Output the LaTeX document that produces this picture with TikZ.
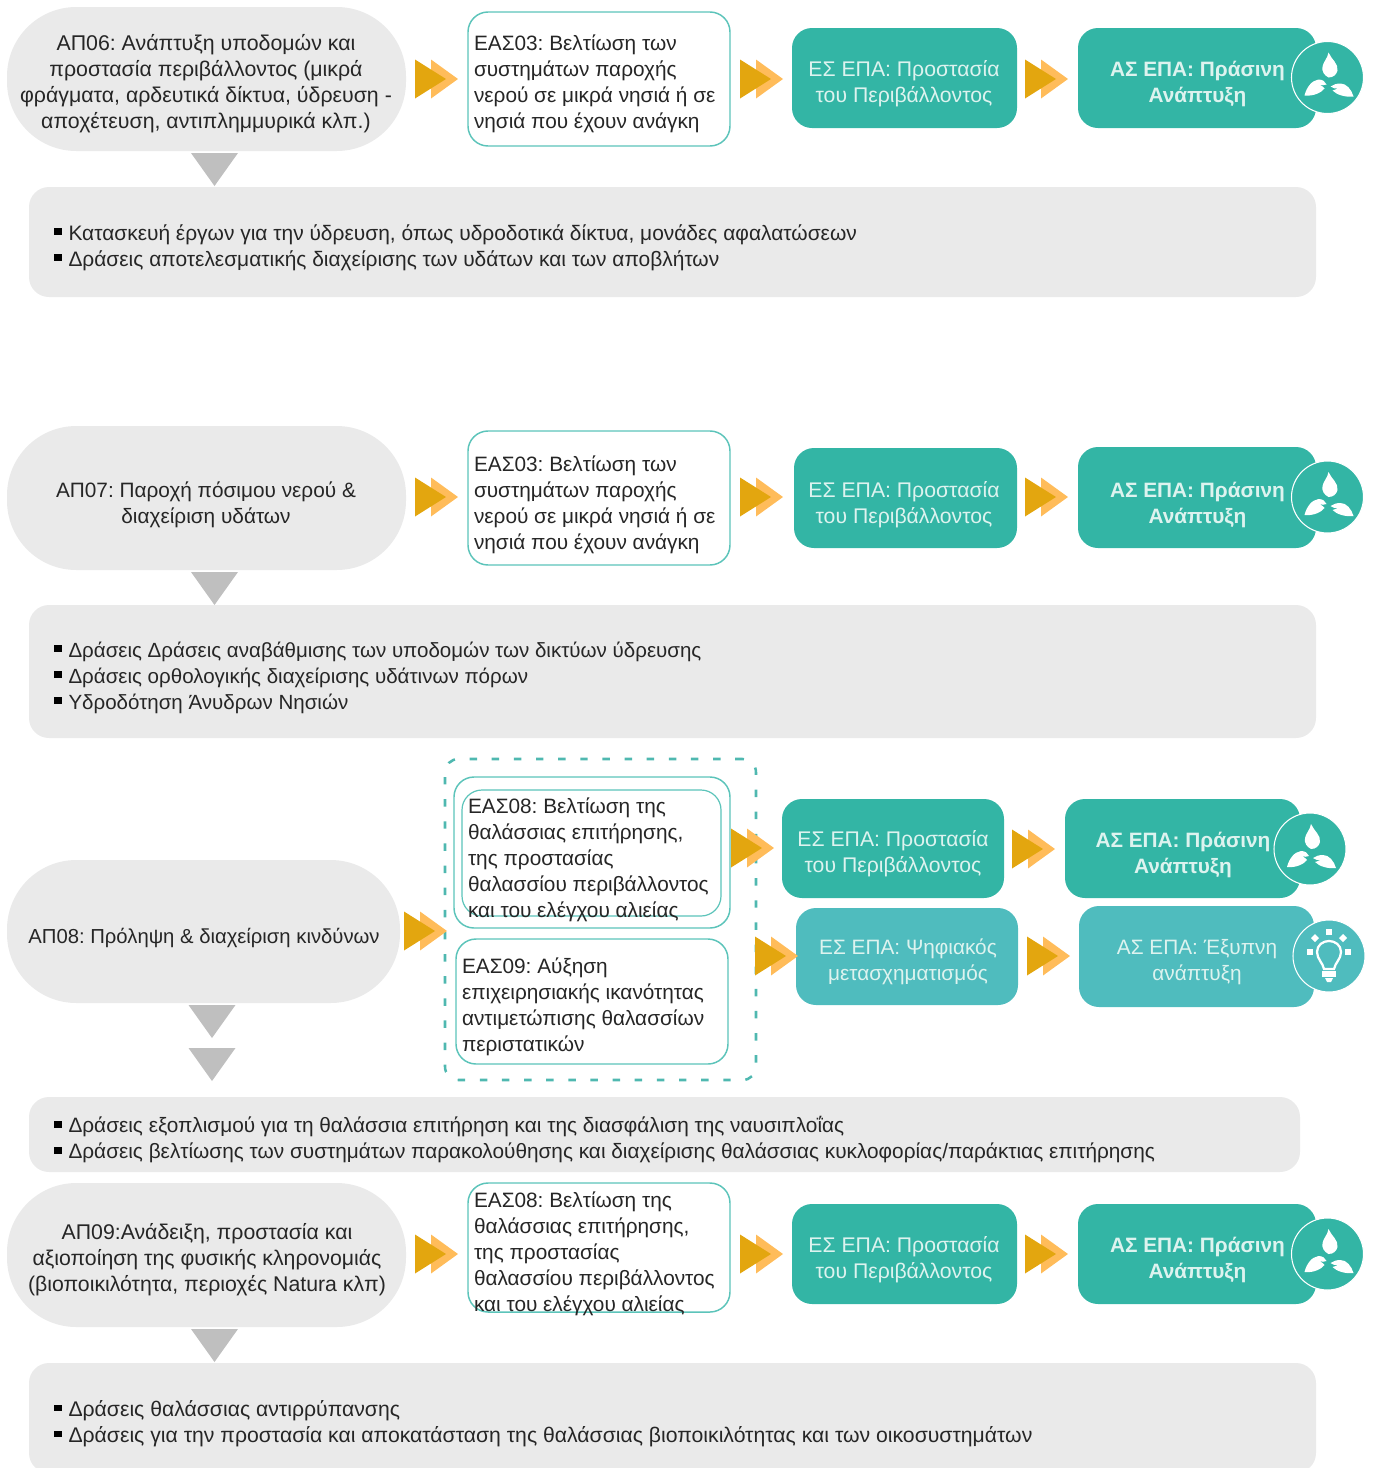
\documentclass[tikz,border=0pt]{standalone}
\usepackage{fontspec}
\setmainfont{Liberation Sans}
\frenchspacing
\definecolor{tealA}{HTML}{33B5A5}
\definecolor{tealB}{HTML}{4FBCBE}
\definecolor{edgeT}{HTML}{5CC4BA}
\definecolor{dashT}{HTML}{4FB8B0}
\definecolor{greyB}{HTML}{EAEAEA}
\definecolor{greyT}{HTML}{BFBFBF}
\definecolor{chevD}{HTML}{E3A60F}
\definecolor{chevL}{HTML}{FFBC5A}
\definecolor{inkT}{HTML}{262626}
\definecolor{paleT}{HTML}{DDF3EF}
\newcommand{\bodyfont}{\fontsize{15.6}{19.5}\selectfont}
\newcommand{\szfont}[1]{\fontsize{#1}{19.5}\selectfont}
\newcommand{\itm}{\makebox[11.25pt][l]{\textcolor{black}{\rule[4pt]{6.5pt}{5.2pt}}}}
\tikzset{
  x=0.75pt,y=-0.75pt,
  boxbase/.style={inner sep=0pt,outer sep=0pt,anchor=north west,rounded corners=15pt},
  pillbox/.style={boxbase,fill=greyB,rounded corners=52pt},
  panelbox/.style={boxbase,fill=greyB},
  easbox/.style={boxbase,draw=edgeT,line width=1.1pt,fill=white},
  tealbox/.style={boxbase,fill=tealA},
  tealboxL/.style={boxbase,fill=tealB},
  txt/.style={inner sep=0pt,outer sep=0pt,font=\bodyfont,text=inkT,yshift=-1.5pt},
  ctxt/.style={txt,align=center,anchor=center},
  ltxt/.style={txt,align=left,anchor=west},
  wtxt/.style={ctxt,text=paleT},
  wesp/.style={ctxt,text=paleT,font=\szfont{15.9}},
  wbold/.style={ctxt,text=paleT,font=\bodyfont\bfseries,yshift=-0.75pt},
  chevron/.pic={
    \fill[chevL] (14,-19.5) -- (41,0) -- (14,19.5) -- cycle;
    \fill[chevD] (-2,-19.5) -- (29,0) -- (-2,19.5) -- cycle;
  },
  downtri/.pic={
    \fill[greyT] (-23.5,0) -- (23.5,0) -- (0,33) -- cycle;
  },
  leafmark/.pic={
    \fill[#1] (0,0) circle[radius=36*0.75pt];
    \draw[white,line width=0.8pt] (0,0) circle[radius=36*0.75pt];
    \fill[white] (1,-25) .. controls (4,-18) and (11,-14) .. (10,-7)
       .. controls (9,-3) and (6,0) .. (1,0)
       .. controls (-3,-2) and (-6,-6) .. (-5,-11)
       .. controls (-4,-16) and (0,-19) .. (1,-25) -- cycle;
    \fill[white] (-23,18) .. controls (-21,10) and (-16,3) .. (-9,2)
       .. controls (-5,2) and (-2,4) .. (-1,7)
       .. controls (-3,8) and (-6,8) .. (-8,7)
       .. controls (-5,9) and (-3,10) .. (-3,11)
       .. controls (-6,15) and (-14,19) .. (-23,18) -- cycle;
    \fill[white] (26,19) .. controls (24,12) and (19,6) .. (13,6)
       .. controls (9,6) and (6,7) .. (3,9)
       .. controls (5,11) and (8,11) .. (10,11)
       .. controls (8,12) and (6,13) .. (5,13)
       .. controls (9,17) and (17,20) .. (26,19) -- cycle;
  },
  bulbmark/.pic={
    \fill[#1] (0,0) circle[radius=36*0.75pt];
    \draw[white,line width=0.8pt] (0,0) circle[radius=36*0.75pt];
    \draw[white,line width=1.7pt] (-5,13) .. controls (-6,7) and (-12,3) .. (-12,-4)
       .. controls (-12,-11) and (-6,-15) .. (0,-15)
       .. controls (6,-15) and (12,-11) .. (12,-4)
       .. controls (12,3) and (6,7) .. (5,13) -- cycle;
    \fill[white] (-7,15) rectangle (7,21);
    \fill[white] (-4,22) -- (4,22) -- (2,26) -- (-2,26) -- cycle;
    \fill[white] (-3,-27) rectangle (3,-21);
    \fill[white] (-18,-18) -- (-14,-22) -- (-10,-18) -- (-14,-14) -- cycle;
    \fill[white] (10,-18) -- (14,-22) -- (18,-18) -- (14,-14) -- cycle;
    \fill[white] (-22,-7) rectangle (-16,-1);
    \fill[white] (16,-7) rectangle (22,-1);
  }
}
\begin{document}
\begin{tikzpicture}
\useasboundingbox (0,0) rectangle (1373,1468);
\clip (0,0) rectangle (1373,1468);

% ---------- Row 1
\node[pillbox,minimum width=299.25pt,minimum height=108pt] (p1) at (7,7) {};
\node[ctxt,font=\szfont{16}] (p1t) at (206,82) {ΑΠ06: Ανάπτυξη υποδομών και\\προστασία περιβάλλοντος (μικρά\\φράγματα, αρδευτικά δίκτυα, ύδρευση -\\αποχέτευση, αντιπλημμυρικά κλπ.)};
\node[easbox,minimum width=196.5pt,minimum height=100.5pt] (e1) at (468,12) {};
\node[ltxt] (e1t) at (474,82) {ΕΑΣ03: Βελτίωση των\\συστημάτων παροχής\\νερού σε μικρά νησιά ή σε\\νησιά που έχουν ανάγκη};
\node[tealbox,minimum width=168.75pt,minimum height=75pt] (s1) at (792,28) {};
\node[wesp] (s1t) at (904,82) {ΕΣ ΕΠΑ: Προστασία\\του Περιβάλλοντος};
\node[tealbox,minimum width=178.5pt,minimum height=75pt] (a1) at (1078,28) {};
\node[wbold] (a1t) at (1197.5,81) {ΑΣ ΕΠΑ: Πράσινη\\Ανάπτυξη};
\pic at (1327.5,77.5) {leafmark=tealA};
\pic at (417,79) {chevron};
\pic at (742,79) {chevron};
\pic at (1027,79) {chevron};
\pic at (214.5,153) {downtri};
\node[panelbox,minimum width=965.25pt,minimum height=82.5pt] (g1) at (29,187) {};
\node[ltxt,font=\szfont{15.7}] (g1t) at (53.5,246) {\itm Κατασκευή έργων για την ύδρευση, όπως υδροδοτικά δίκτυα, μονάδες αφαλατώσεων\\\itm Δράσεις αποτελεσματικής διαχείρισης των υδάτων και των αποβλήτων};

% ---------- Row 2
\node[pillbox,minimum width=299.25pt,minimum height=108pt] (p2) at (7,426) {};
\node[ctxt] (p2t) at (206,503) {ΑΠ07: Παροχή πόσιμου νερού \&\\διαχείριση υδάτων};
\node[easbox,minimum width=196.5pt,minimum height=100.5pt] (e2) at (468,431) {};
\node[ltxt] (e2t) at (474,503) {ΕΑΣ03: Βελτίωση των\\συστημάτων παροχής\\νερού σε μικρά νησιά ή σε\\νησιά που έχουν ανάγκη};
\node[tealbox,minimum width=167.25pt,minimum height=75pt] (s2) at (794,448) {};
\node[wesp] (s2t) at (904,503) {ΕΣ ΕΠΑ: Προστασία\\του Περιβάλλοντος};
\node[tealbox,minimum width=178.5pt,minimum height=75.75pt] (a2) at (1078,447) {};
\node[wbold] (a2t) at (1197.5,502) {ΑΣ ΕΠΑ: Πράσινη\\Ανάπτυξη};
\pic at (1327.5,497) {leafmark=tealA};
\pic at (417,497) {chevron};
\pic at (742,497) {chevron};
\pic at (1027,497) {chevron};
\pic at (214.5,572) {downtri};
\node[panelbox,minimum width=965.25pt,minimum height=99.75pt] (g2) at (29,605) {};
\node[ltxt,font=\szfont{15.4}] (g2t) at (53.5,676) {\itm Δράσεις Δράσεις αναβάθμισης των υποδομών των δικτύων ύδρευσης\\\itm Δράσεις ορθολογικής διαχείρισης υδάτινων πόρων\\\itm Υδροδότηση Άνυδρων Νησιών};

% ---------- Row 3
\node[pillbox,minimum width=294.75pt,minimum height=107.25pt] (p3) at (7,860) {};
\node[ctxt,font=\szfont{15.2}] (p3t) at (204,936) {ΑΠ08: Πρόληψη \& διαχείριση κινδύνων};
\node[boxbase,draw=dashT,line width=1.9pt,dash pattern=on 5.6pt off 11pt,minimum width=233.25pt,minimum height=240.75pt,rounded corners=10pt] (dbox) at (445,759) {};
\node[easbox,minimum width=207pt,minimum height=113.25pt] (e3o) at (454,777) {};
\node[easbox,line width=0.9pt,minimum width=194.25pt,minimum height=94.5pt] (e3i) at (462,790) {};
\node[ltxt] (e3t) at (468,858) {ΕΑΣ08: Βελτίωση της\\θαλάσσιας επιτήρησης,\\της προστασίας\\θαλασσίου περιβάλλοντος\\και του ελέγχου αλιείας};
\node[easbox,minimum width=204pt,minimum height=93.75pt] (e4) at (456,939) {};
\node[ltxt] (e4t) at (462,1005) {ΕΑΣ09: Αύξηση\\επιχειρησιακής ικανότητας\\αντιμετώπισης θαλασσίων\\περιστατικών};
\node[tealbox,minimum width=166.5pt,minimum height=74.25pt] (s3) at (782,799) {};
\node[wesp] (s3t) at (893,852) {ΕΣ ΕΠΑ: Προστασία\\του Περιβάλλοντος};
\node[tealbox,minimum width=176.25pt,minimum height=74.25pt] (a3) at (1065,799) {};
\node[wbold] (a3t) at (1183,852) {ΑΣ ΕΠΑ: Πράσινη\\Ανάπτυξη};
\pic at (1310,849) {leafmark=tealA};
\node[tealboxL,minimum width=166.5pt,minimum height=72.75pt] (s4) at (796,908) {};
\node[wtxt] (s4t) at (908,960) {ΕΣ ΕΠΑ: Ψηφιακός\\μετασχηματισμός};
\node[tealboxL,minimum width=176.25pt,minimum height=75.75pt] (a4) at (1079,906) {};
\node[wtxt] (a4t) at (1197,960) {ΑΣ ΕΠΑ: Έξυπνη\\ανάπτυξη};
\pic at (1329,956) {bulbmark=tealB};
\pic at (406,931) {chevron};
\pic at (733,848) {chevron};
\pic at (1014,849) {chevron};
\pic at (757,956) {chevron};
\pic at (1029,956) {chevron};
\pic at (212,1005) {downtri};
\pic at (212,1048) {downtri};
\node[panelbox,minimum width=953.25pt,minimum height=56.25pt] (g3) at (29,1097) {};
\node[ltxt] (g3t) at (53.5,1138) {\itm Δράσεις εξοπλισμού για τη θαλάσσια επιτήρηση και της διασφάλιση της ναυσιπλοΐας\\\itm Δράσεις βελτίωσης των συστημάτων παρακολούθησης και διαχείρισης θαλάσσιας κυκλοφορίας/παράκτιας επιτήρησης};

% ---------- Row 4
\node[pillbox,minimum width=299.25pt,minimum height=108pt] (p4) at (7,1183) {};
\node[ctxt,font=\szfont{15.95}] (p4t) at (207,1258) {ΑΠ09:Ανάδειξη, προστασία και\\αξιοποίηση της φυσικής κληρονομιάς\\(βιοποικιλότητα, περιοχές Natura κλπ)};
\node[easbox,minimum width=196.5pt,minimum height=96.75pt] (e5) at (468,1183) {};
\node[ltxt] (e5t) at (474,1252) {ΕΑΣ08: Βελτίωση της\\θαλάσσιας επιτήρησης,\\της προστασίας\\θαλασσίου περιβάλλοντος\\και του ελέγχου αλιείας};
\node[tealbox,minimum width=168.75pt,minimum height=75pt] (s5) at (792,1204) {};
\node[wesp] (s5t) at (904,1258) {ΕΣ ΕΠΑ: Προστασία\\του Περιβάλλοντος};
\node[tealbox,minimum width=178.5pt,minimum height=75pt] (a5) at (1078,1204) {};
\node[wbold] (a5t) at (1197.5,1257) {ΑΣ ΕΠΑ: Πράσινη\\Ανάπτυξη};
\pic at (1327.5,1254) {leafmark=tealA};
\pic at (417,1254) {chevron};
\pic at (742,1254) {chevron};
\pic at (1027,1254) {chevron};
\pic at (214.5,1329) {downtri};
\node[panelbox,minimum width=965.25pt,minimum height=82.5pt] (g4) at (29,1363) {};
\node[ltxt,font=\szfont{15.9}] (g4t) at (53.5,1422) {\itm Δράσεις θαλάσσιας αντιρρύπανσης\\\itm Δράσεις για την προστασία και αποκατάσταση της θαλάσσιας βιοποικιλότητας και των οικοσυστημάτων};
\end{tikzpicture}
\end{document}
